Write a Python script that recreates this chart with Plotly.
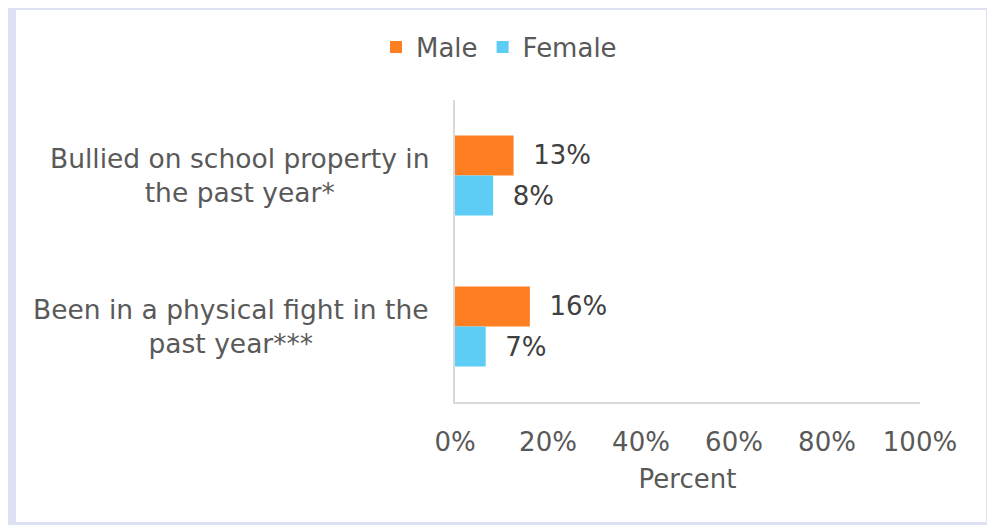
import plotly.graph_objects as go

categories = ["Bullied on school property in the past year*",
              "Been in a physical fight in the past year***"]
category_labels = ["Bullied on school property in<br>the past year*",
                   "Been in a physical fight in the<br>past year***"]
male = [12.6, 16.1]
female = [8.2, 6.6]
x_ticks = [0, 20, 40, 60, 80, 100]
x_tick_labels = ["0%", "20%", "40%", "60%", "80%", "100%"]

FONT = "DejaVu Sans"
FS = 26
TXT = "#595959"

OFF = 8  # page body margin
W, H = 995 - OFF, 525 - OFF
# plot area in screen pixels
SX0, SX1, SY0, SY1 = 455, 920, 100, 402
L, R = SX0 - OFF, W - (SX1 - OFF)
T, B = SY0 - OFF, H - (SY1 - OFF)
pw, ph = W - L - R, H - T - B


def px_x(sx):
    return (sx - OFF - L) / pw


def px_y(sy):
    return (H - B - (sy - OFF)) / ph


fig = go.Figure()
fig.add_trace(go.Bar(
    name="Male", y=categories, x=male, orientation="h",
    marker=dict(color="#FE7F22", line=dict(width=0)),
    texttemplate="\u00a0\u00a0%{x:.0f}%", textposition="outside",
    textfont=dict(family=FONT, size=FS, color="#404040"),
    cliponaxis=False,
))
fig.add_trace(go.Bar(
    name="Female", y=categories, x=female, orientation="h",
    marker=dict(color="#5DCDF5", line=dict(width=0)),
    texttemplate="\u00a0\u00a0%{x:.0f}%", textposition="outside",
    textfont=dict(family=FONT, size=FS, color="#404040"),
    cliponaxis=False,
))

annotations = []
for cat, lab in zip(categories, category_labels):
    annotations.append(dict(
        x=px_x(431), xref="paper", xanchor="right",
        y=cat, yref="y", yanchor="middle",
        text=lab, showarrow=False, align="center",
        font=dict(family=FONT, size=26.5, color=TXT),
    ))

shapes = [
    dict(type="rect", xref="paper", yref="paper", layer="below",
         x0=px_x(8), x1=px_x(993), y0=px_y(530), y1=px_y(3),
         fillcolor="#DDE1F3", line=dict(width=0)),
    dict(type="rect", xref="paper", yref="paper", layer="below",
         x0=px_x(16), x1=px_x(986), y0=px_y(522), y1=px_y(10),
         fillcolor="#FFFFFF", line=dict(width=0)),
]

fig.update_layout(
    width=W, height=H,
    margin=dict(l=L, r=R, t=T, b=B),
    paper_bgcolor="#FFFFFF",
    plot_bgcolor="rgba(0,0,0,0)",
    barmode="group", bargap=0.47, bargroupgap=0,
    font=dict(family=FONT, size=FS, color=TXT),
    showlegend=True,
    legend=dict(orientation="h", x=px_x(499), xanchor="center",
                y=px_y(47), yanchor="middle",
                font=dict(family=FONT, size=FS, color=TXT),
                bgcolor="rgba(0,0,0,0)", itemwidth=30, traceorder="normal"),
    xaxis=dict(range=[0, 100], tickvals=x_ticks, ticktext=x_tick_labels,
               showgrid=False, zeroline=False, showline=True,
               linecolor="#D9D9D9", linewidth=1.5, ticks="",
               ticklabelstandoff=16,
               tickfont=dict(family=FONT, size=FS, color=TXT),
               title=dict(text="Percent", standoff=14,
                          font=dict(family=FONT, size=FS, color=TXT))),
    yaxis=dict(autorange="reversed", showticklabels=False, showgrid=False,
               zeroline=False, showline=True, linecolor="#D9D9D9",
               linewidth=1.5, ticks=""),
    annotations=annotations,
    shapes=shapes,
)

fig.write_html("out.html")
